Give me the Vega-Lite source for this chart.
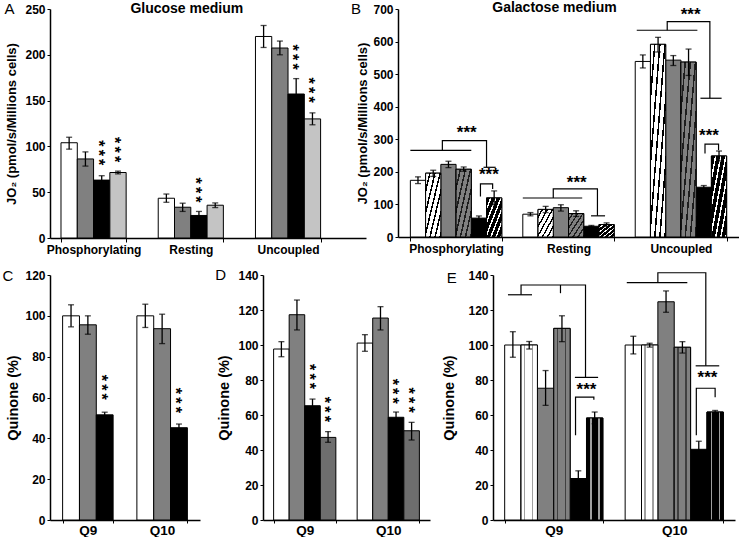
{
"$schema":"https://vega.github.io/schema/vega-lite/v6.json",
"padding":{"left":2,"top":1,"right":0,"bottom":0},
"config":{
 "view":{"stroke":null},
 "font":"Liberation Sans",
 "axis":{"labelFont":"Liberation Sans","labelFontWeight":"bold","labelFontSize":12,"labelColor":"#000","labelOverlap":false,"labelBound":false,"titleFont":"Liberation Sans","titleFontWeight":"bold","titleColor":"#000","domainColor":"#000","domainWidth":1.5,"tickColor":"#000","tickWidth":1,"tickSize":3,"grid":false,"labelPadding":2},
 "axisX":{"tickBand":"extent","labelAngle":0,"tickSize":4},
 "axisY":{"titleFontSize":13,"titlePadding":6,"labelOverlap":false,"labelBound":false,"labelFlush":false,"tickCount":30},
 "text":{"font":"Liberation Sans","color":"#000"}
},
"datasets":{
 "A":[
  {"g":"Phosphorylating","s":"a1","v":104,"lo":97,"hi":110},
  {"g":"Phosphorylating","s":"a2","v":86.3,"lo":78.5,"hi":94},
  {"g":"Phosphorylating","s":"a3","v":63.2,"lo":58.5,"hi":68},
  {"g":"Phosphorylating","s":"a4","v":71.5,"lo":70,"hi":73},
  {"g":"Resting","s":"a1","v":43.4,"lo":39,"hi":48},
  {"g":"Resting","s":"a2","v":33.6,"lo":29,"hi":38},
  {"g":"Resting","s":"a3","v":24.6,"lo":20.6,"hi":29},
  {"g":"Resting","s":"a4","v":35.8,"lo":33.2,"hi":38.3},
  {"g":"Uncoupled","s":"a1","v":220,"lo":208,"hi":232},
  {"g":"Uncoupled","s":"a2","v":207.4,"lo":200,"hi":215},
  {"g":"Uncoupled","s":"a3","v":157.2,"lo":140.5,"hi":174},
  {"g":"Uncoupled","s":"a4","v":130,"lo":123.6,"hi":136.6}],
 "As":[
  {"g":"Phosphorylating","s":"a3","y":93},
  {"g":"Phosphorylating","s":"a4","y":96.5},
  {"g":"Resting","s":"a3","y":52.4},
  {"g":"Uncoupled","s":"a3","y":197.5},
  {"g":"Uncoupled","s":"a4","y":161.5}],
 "B":[
  {"g":"Phosphorylating","s":"b1","v":174,"lo":164,"hi":184.6},
  {"g":"Phosphorylating","s":"b2","v":196,"lo":186,"hi":205},
  {"g":"Phosphorylating","s":"b3","v":223,"lo":213,"hi":232.6},
  {"g":"Phosphorylating","s":"b4","v":208,"lo":202,"hi":215},
  {"g":"Phosphorylating","s":"b5","v":58,"lo":52,"hi":64.6},
  {"g":"Phosphorylating","s":"b6","v":120,"lo":98.5,"hi":141.5},
  {"g":"Resting","s":"b1","v":70,"lo":65,"hi":75},
  {"g":"Resting","s":"b2","v":84.7,"lo":75,"hi":94},
  {"g":"Resting","s":"b3","v":90,"lo":79.5,"hi":99},
  {"g":"Resting","s":"b4","v":72,"lo":63,"hi":80.5},
  {"g":"Resting","s":"b5","v":33,"lo":31,"hi":35.5},
  {"g":"Resting","s":"b6","v":38.2,"lo":32,"hi":43.4},
  {"g":"Uncoupled","s":"b1","v":539,"lo":519,"hi":559},
  {"g":"Uncoupled","s":"b2","v":591.5,"lo":568,"hi":613},
  {"g":"Uncoupled","s":"b3","v":543,"lo":526.5,"hi":557},
  {"g":"Uncoupled","s":"b4","v":537,"lo":496,"hi":577},
  {"g":"Uncoupled","s":"b5","v":152.8,"lo":147.6,"hi":158},
  {"g":"Uncoupled","s":"b6","v":248.8,"lo":233.3,"hi":264}],
 "Bb":[
  {"g":"Phosphorylating","id":"P1","o":1,"k":0,"y":266},
  {"g":"Phosphorylating","id":"P1","o":2,"k":4,"y":266},
  {"g":"Phosphorylating","id":"P2","o":1,"k":2.1,"y":266},
  {"g":"Phosphorylating","id":"P2","o":2,"k":2.1,"y":296},
  {"g":"Phosphorylating","id":"P2","o":3,"k":5.0,"y":296},
  {"g":"Phosphorylating","id":"P2","o":4,"k":5.0,"y":214},
  {"g":"Phosphorylating","id":"P3","o":1,"k":4.8,"y":214},
  {"g":"Phosphorylating","id":"P3","o":2,"k":5.6,"y":214},
  {"g":"Phosphorylating","id":"P4","o":1,"k":4.6,"y":124},
  {"g":"Phosphorylating","id":"P4","o":2,"k":4.6,"y":163},
  {"g":"Phosphorylating","id":"P4","o":3,"k":5.4,"y":163},
  {"g":"Phosphorylating","id":"P4","o":4,"k":5.4,"y":147.5},
  {"g":"Resting","id":"R1","o":1,"k":0,"y":119.8},
  {"g":"Resting","id":"R1","o":2,"k":3.9,"y":119.8},
  {"g":"Resting","id":"R2","o":1,"k":2.0,"y":119.8},
  {"g":"Resting","id":"R2","o":2,"k":2.0,"y":147.5},
  {"g":"Resting","id":"R2","o":3,"k":4.9,"y":147.5},
  {"g":"Resting","id":"R2","o":4,"k":4.9,"y":65},
  {"g":"Resting","id":"R3","o":1,"k":4.48,"y":65},
  {"g":"Resting","id":"R3","o":2,"k":5.4,"y":65},
  {"g":"Uncoupled","id":"U1","o":1,"k":0.1,"y":634.8},
  {"g":"Uncoupled","id":"U1","o":2,"k":4.08,"y":634.8},
  {"g":"Uncoupled","id":"U2","o":1,"k":2.1,"y":634.8},
  {"g":"Uncoupled","id":"U2","o":2,"k":2.1,"y":661.5},
  {"g":"Uncoupled","id":"U2","o":3,"k":4.9,"y":661.5},
  {"g":"Uncoupled","id":"U2","o":4,"k":4.9,"y":426},
  {"g":"Uncoupled","id":"U3","o":1,"k":4.28,"y":426},
  {"g":"Uncoupled","id":"U3","o":2,"k":5.67,"y":426},
  {"g":"Uncoupled","id":"U4","o":1,"k":4.58,"y":256},
  {"g":"Uncoupled","id":"U4","o":2,"k":4.58,"y":285},
  {"g":"Uncoupled","id":"U4","o":3,"k":5.47,"y":285},
  {"g":"Uncoupled","id":"U4","o":4,"k":5.47,"y":266}],
 "Bs":[
  {"g":"Phosphorylating","k":3.7,"y":328},
  {"g":"Phosphorylating","k":5.15,"y":200},
  {"g":"Resting","k":3.54,"y":175.5},
  {"g":"Uncoupled","k":3.64,"y":692},
  {"g":"Uncoupled","k":4.84,"y":320}],
 "C":[
  {"g":"Q9","s":"c1","v":100,"lo":94.6,"hi":105.4},
  {"g":"Q9","s":"c2","v":95.6,"lo":91,"hi":100},
  {"g":"Q9","s":"c3","v":51.5,"lo":50.2,"hi":52.8},
  {"g":"Q10","s":"c1","v":100,"lo":94.3,"hi":105.7},
  {"g":"Q10","s":"c2","v":93.7,"lo":86.4,"hi":100.8},
  {"g":"Q10","s":"c3","v":45.2,"lo":43.6,"hi":47}],
 "Cs":[
  {"g":"Q9","s":"c3","y":65},
  {"g":"Q10","s":"c3","y":58.6}],
 "D":[
  {"g":"Q9","s":"d1","v":97.7,"lo":93.3,"hi":101.9},
  {"g":"Q9","s":"d2","v":117.3,"lo":108.6,"hi":125.7},
  {"g":"Q9","s":"d3","v":65.3,"lo":61.5,"hi":69.1},
  {"g":"Q9","s":"d4","v":47.2,"lo":44.4,"hi":50.5},
  {"g":"Q10","s":"d1","v":101.1,"lo":96.4,"hi":105.9},
  {"g":"Q10","s":"d2","v":115.4,"lo":108.6,"hi":121.9},
  {"g":"Q10","s":"d3","v":58.7,"lo":55.6,"hi":61.7},
  {"g":"Q10","s":"d4","v":51,"lo":45.7,"hi":55.8}],
 "Ds":[
  {"g":"Q9","s":"d3","y":82},
  {"g":"Q9","s":"d4","y":63.2},
  {"g":"Q10","s":"d3","y":73.6},
  {"g":"Q10","s":"d4","y":68.5}],
 "E":[
  {"g":"Q9","s":"e1","v":100,"lo":93,"hi":107.6},
  {"g":"Q9","s":"e2","v":100,"lo":97.7,"hi":102},
  {"g":"Q9","s":"e3","v":75.3,"lo":65.5,"hi":85.4},
  {"g":"Q9","s":"e4","v":109.5,"lo":101.9,"hi":116.7},
  {"g":"Q9","s":"e5","v":23.7,"lo":19.5,"hi":28.1},
  {"g":"Q9","s":"e6","v":58.3,"lo":55,"hi":61.7},
  {"g":"Q10","s":"e1","v":100,"lo":94.9,"hi":105},
  {"g":"Q10","s":"e2","v":100,"lo":98.8,"hi":101},
  {"g":"Q10","s":"e3","v":124.7,"lo":118.7,"hi":130.9},
  {"g":"Q10","s":"e4","v":98.7,"lo":95.4,"hi":101.9},
  {"g":"Q10","s":"e5","v":40.4,"lo":36,"hi":45},
  {"g":"Q10","s":"e6","v":61.7,"lo":60.7,"hi":62.6}],
 "Eb":[
  {"g":"Q9","id":"9a","o":1,"k":0.2,"y":128.7},
  {"g":"Q9","id":"9a","o":2,"k":1.67,"y":128.7},
  {"g":"Q9","id":"9b","o":1,"k":1.0,"y":128.7},
  {"g":"Q9","id":"9b","o":2,"k":1.0,"y":134.3},
  {"g":"Q9","id":"9b","o":3,"k":4.94,"y":134.3},
  {"g":"Q9","id":"9b","o":4,"k":4.94,"y":81.5},
  {"g":"Q9","id":"9c","o":1,"k":3.41,"y":134.3},
  {"g":"Q9","id":"9c","o":2,"k":3.41,"y":129.6},
  {"g":"Q9","id":"9d","o":1,"k":4.29,"y":81.5},
  {"g":"Q9","id":"9d","o":2,"k":5.71,"y":81.5},
  {"g":"Q9","id":"9e","o":1,"k":4.33,"y":48.4},
  {"g":"Q9","id":"9e","o":2,"k":4.33,"y":70.2},
  {"g":"Q9","id":"9e","o":3,"k":5.45,"y":70.2},
  {"g":"Q9","id":"9e","o":4,"k":5.45,"y":68.7},
  {"g":"Q10","id":"10a","o":1,"k":0.1,"y":135.7},
  {"g":"Q10","id":"10a","o":2,"k":3.8,"y":135.7},
  {"g":"Q10","id":"10b","o":1,"k":2.0,"y":135.7},
  {"g":"Q10","id":"10b","o":2,"k":2.0,"y":141.3},
  {"g":"Q10","id":"10b","o":3,"k":4.93,"y":141.3},
  {"g":"Q10","id":"10b","o":4,"k":4.93,"y":88.1},
  {"g":"Q10","id":"10d","o":1,"k":4.31,"y":88.1},
  {"g":"Q10","id":"10d","o":2,"k":5.75,"y":88.1},
  {"g":"Q10","id":"10e","o":1,"k":4.35,"y":48.4},
  {"g":"Q10","id":"10e","o":2,"k":4.35,"y":75.3},
  {"g":"Q10","id":"10e","o":3,"k":5.5,"y":75.3},
  {"g":"Q10","id":"10e","o":4,"k":5.5,"y":70.2}],
 "Es":[
  {"g":"Q9","k":5.0,"y":76.2},
  {"g":"Q10","k":5.03,"y":82.8}]
},
"spacing":13,
"resolve":{"scale":{"fill":"independent"}},
"vconcat":[
{"hconcat":[
 {"width":316,"height":229,
  "resolve":{"scale":{"xOffset":"independent"}},
  "encoding":{"x":{"field":"g","type":"nominal","title":null,"scale":{"domain":["Phosphorylating","Resting","Uncoupled"],"paddingInner":0.33,"paddingOuter":0.29,"align":0.195}}},
  "layer":[
   {"data":{"name":"A"},"mark":{"type":"bar","stroke":"#000","strokeWidth":1},
    "encoding":{"xOffset":{"field":"s","type":"nominal","scale":{"domain":["a1","a2","a3","a4"]}},
     "y":{"field":"v","type":"quantitative","title":"JO₂ (pmol/s/Millions cells)","scale":{"domain":[0,250],"nice":false},"axis":{"values":[0,50,100,150,200,250],"tickCount":30}},
     "fill":{"field":"s","type":"nominal","legend":null,"scale":{"domain":["a1","a2","a3","a4"],"range":["#ffffff","#808080","#000000","#c4c4c4"]}}}},
   {"data":{"name":"A"},"mark":{"type":"rule","color":"#000","strokeWidth":1.3},
    "encoding":{"xOffset":{"field":"s","type":"nominal","scale":{"domain":["a1","a2","a3","a4"]}},"y":{"field":"lo","type":"quantitative","title":"JO₂ (pmol/s/Millions cells)","scale":{"domain":[0,250],"nice":false}},"y2":{"field":"hi"}}},
   {"data":{"name":"A"},"mark":{"type":"tick","color":"#000","size":6,"thickness":1.3,"orient":"horizontal"},
    "encoding":{"xOffset":{"field":"s","type":"nominal","scale":{"domain":["a1","a2","a3","a4"]}},"y":{"field":"hi","type":"quantitative","title":"JO₂ (pmol/s/Millions cells)","scale":{"domain":[0,250],"nice":false}}}},
   {"data":{"name":"A"},"mark":{"type":"tick","color":"#000","size":6,"thickness":1.3,"orient":"horizontal"},
    "encoding":{"xOffset":{"field":"s","type":"nominal","scale":{"domain":["a1","a2","a3","a4"]}},"y":{"field":"lo","type":"quantitative","title":"JO₂ (pmol/s/Millions cells)","scale":{"domain":[0,250],"nice":false}}}},
   {"data":{"name":"As"},"mark":{"type":"text","text":"*\u2009*\u2009*","angle":90,"fontSize":16,"fontWeight":"bold","baseline":"middle","align":"center","dy":4},
    "encoding":{"xOffset":{"field":"s","type":"nominal","scale":{"domain":["a1","a2","a3","a4"]}},"y":{"field":"y","type":"quantitative","title":"JO₂ (pmol/s/Millions cells)","scale":{"domain":[0,250],"nice":false}}}},
   {"data":{"values":[{}]},"mark":{"type":"text","text":"Glucose medium","fontSize":14,"fontWeight":"bold","dx":-4,"dy":0},
    "encoding":{"x":{"datum":"Resting","type":"nominal"},"y":{"datum":250,"type":"quantitative"}}},
   {"data":{"values":[{}]},"mark":{"type":"text","text":"A","fontSize":15,"dx":-84,"dy":0},
    "encoding":{"x":{"datum":"Phosphorylating","type":"nominal"},"y":{"datum":250,"type":"quantitative"}}}
  ]},
 {"width":341,"height":228,
  "resolve":{"scale":{"xOffset":"independent"}},
  "encoding":{"x":{"field":"g","type":"nominal","title":null,"scale":{"domain":["Phosphorylating","Resting","Uncoupled"],"paddingInner":0.187,"paddingOuter":0.11}}},
  "layer":[
   {"data":{"name":"B"},"mark":{"type":"bar","stroke":"#000","strokeWidth":1},
    "encoding":{"xOffset":{"field":"s","type":"nominal","scale":{"domain":["b1","b2","b3","b4","b5","b6"]}},
     "y":{"field":"v","type":"quantitative","title":"JO₂ (pmol/s/Millions cells)","scale":{"domain":[0,700],"nice":false},"axis":{"values":[0,100,200,300,400,500,600,700],"tickCount":30,"titlePadding":3}},
     "fill":{"field":"s","type":"nominal","legend":null,"scale":{"domain":["b1","b2","b3","b4","b5","b6"],"range":["#ffffff","#c0c0c0","#808080","#5a5a5a","#000000","#3c3c3c"]}}}},
   {"data":{"name":"B"},"transform":[{"filter":"datum.s == 'b2'"}],
    "mark":{"type":"bar","stroke":"#000","strokeWidth":1,"fill":{"gradient":"linear","x1":0,"y1":0,"x2":1,"y2":1,"stops":[
     {"offset":0,"color":"#ffffff"},{"offset":0.1167,"color":"#ffffff"},{"offset":0.1167,"color":"#000000"},{"offset":0.1667,"color":"#000000"},
     {"offset":0.1667,"color":"#ffffff"},{"offset":0.2833,"color":"#ffffff"},{"offset":0.2833,"color":"#000000"},{"offset":0.3333,"color":"#000000"},
     {"offset":0.3333,"color":"#ffffff"},{"offset":0.45,"color":"#ffffff"},{"offset":0.45,"color":"#000000"},{"offset":0.5,"color":"#000000"},
     {"offset":0.5,"color":"#ffffff"},{"offset":0.6167,"color":"#ffffff"},{"offset":0.6167,"color":"#000000"},{"offset":0.6667,"color":"#000000"},
     {"offset":0.6667,"color":"#ffffff"},{"offset":0.7833,"color":"#ffffff"},{"offset":0.7833,"color":"#000000"},{"offset":0.8333,"color":"#000000"},
     {"offset":0.8333,"color":"#ffffff"},{"offset":0.95,"color":"#ffffff"},{"offset":0.95,"color":"#000000"},{"offset":1,"color":"#000000"}]}},
    "encoding":{"xOffset":{"field":"s","type":"nominal","scale":{"domain":["b1","b2","b3","b4","b5","b6"]}},"y":{"field":"v","type":"quantitative","title":"JO₂ (pmol/s/Millions cells)","scale":{"domain":[0,700],"nice":false}}}},
   {"data":{"name":"B"},"transform":[{"filter":"datum.s == 'b4'"}],
    "mark":{"type":"bar","stroke":"#000","strokeWidth":1,"fill":{"gradient":"linear","x1":0,"y1":0,"x2":1,"y2":1,"stops":[
     {"offset":0,"color":"#808080"},{"offset":0.1167,"color":"#808080"},{"offset":0.1167,"color":"#1e1e1e"},{"offset":0.1667,"color":"#1e1e1e"},
     {"offset":0.1667,"color":"#808080"},{"offset":0.2833,"color":"#808080"},{"offset":0.2833,"color":"#1e1e1e"},{"offset":0.3333,"color":"#1e1e1e"},
     {"offset":0.3333,"color":"#808080"},{"offset":0.45,"color":"#808080"},{"offset":0.45,"color":"#1e1e1e"},{"offset":0.5,"color":"#1e1e1e"},
     {"offset":0.5,"color":"#808080"},{"offset":0.6167,"color":"#808080"},{"offset":0.6167,"color":"#1e1e1e"},{"offset":0.6667,"color":"#1e1e1e"},
     {"offset":0.6667,"color":"#808080"},{"offset":0.7833,"color":"#808080"},{"offset":0.7833,"color":"#1e1e1e"},{"offset":0.8333,"color":"#1e1e1e"},
     {"offset":0.8333,"color":"#808080"},{"offset":0.95,"color":"#808080"},{"offset":0.95,"color":"#1e1e1e"},{"offset":1,"color":"#1e1e1e"}]}},
    "encoding":{"xOffset":{"field":"s","type":"nominal","scale":{"domain":["b1","b2","b3","b4","b5","b6"]}},"y":{"field":"v","type":"quantitative","title":"JO₂ (pmol/s/Millions cells)","scale":{"domain":[0,700],"nice":false}}}},
   {"data":{"name":"B"},"transform":[{"filter":"datum.s == 'b6'"}],
    "mark":{"type":"bar","stroke":"#000","strokeWidth":1,"fill":{"gradient":"linear","x1":0,"y1":0,"x2":1,"y2":1,"stops":[
     {"offset":0,"color":"#000000"},{"offset":0.1167,"color":"#000000"},{"offset":0.1167,"color":"#ffffff"},{"offset":0.1667,"color":"#ffffff"},
     {"offset":0.1667,"color":"#000000"},{"offset":0.2833,"color":"#000000"},{"offset":0.2833,"color":"#ffffff"},{"offset":0.3333,"color":"#ffffff"},
     {"offset":0.3333,"color":"#000000"},{"offset":0.45,"color":"#000000"},{"offset":0.45,"color":"#ffffff"},{"offset":0.5,"color":"#ffffff"},
     {"offset":0.5,"color":"#000000"},{"offset":0.6167,"color":"#000000"},{"offset":0.6167,"color":"#ffffff"},{"offset":0.6667,"color":"#ffffff"},
     {"offset":0.6667,"color":"#000000"},{"offset":0.7833,"color":"#000000"},{"offset":0.7833,"color":"#ffffff"},{"offset":0.8333,"color":"#ffffff"},
     {"offset":0.8333,"color":"#000000"},{"offset":0.95,"color":"#000000"},{"offset":0.95,"color":"#ffffff"},{"offset":1,"color":"#ffffff"}]}},
    "encoding":{"xOffset":{"field":"s","type":"nominal","scale":{"domain":["b1","b2","b3","b4","b5","b6"]}},"y":{"field":"v","type":"quantitative","title":"JO₂ (pmol/s/Millions cells)","scale":{"domain":[0,700],"nice":false}}}},
   {"data":{"name":"B"},"mark":{"type":"rule","color":"#000","strokeWidth":1.3},
    "encoding":{"xOffset":{"field":"s","type":"nominal","scale":{"domain":["b1","b2","b3","b4","b5","b6"]}},"y":{"field":"lo","type":"quantitative","title":"JO₂ (pmol/s/Millions cells)","scale":{"domain":[0,700],"nice":false}},"y2":{"field":"hi"}}},
   {"data":{"name":"B"},"mark":{"type":"tick","color":"#000","size":6,"thickness":1.3,"orient":"horizontal"},
    "encoding":{"xOffset":{"field":"s","type":"nominal","scale":{"domain":["b1","b2","b3","b4","b5","b6"]}},"y":{"field":"hi","type":"quantitative","title":"JO₂ (pmol/s/Millions cells)","scale":{"domain":[0,700],"nice":false}}}},
   {"data":{"name":"B"},"mark":{"type":"tick","color":"#000","size":6,"thickness":1.3,"orient":"horizontal"},
    "encoding":{"xOffset":{"field":"s","type":"nominal","scale":{"domain":["b1","b2","b3","b4","b5","b6"]}},"y":{"field":"lo","type":"quantitative","title":"JO₂ (pmol/s/Millions cells)","scale":{"domain":[0,700],"nice":false}}}},
   {"data":{"name":"Bb"},"mark":{"type":"line","color":"#000","strokeWidth":1.2},
    "encoding":{"xOffset":{"field":"k","type":"quantitative","scale":{"domain":[0,6],"nice":false,"zero":false}},"y":{"field":"y","type":"quantitative","title":"JO₂ (pmol/s/Millions cells)","scale":{"domain":[0,700],"nice":false}},"detail":{"field":"id","type":"nominal"},"order":{"field":"o","type":"quantitative"}}},
   {"data":{"name":"Bs"},"mark":{"type":"text","text":"***","fontSize":17,"fontWeight":"bold","baseline":"middle","dy":3},
    "encoding":{"xOffset":{"field":"k","type":"quantitative","scale":{"domain":[0,6],"nice":false,"zero":false}},"y":{"field":"y","type":"quantitative","title":"JO₂ (pmol/s/Millions cells)","scale":{"domain":[0,700],"nice":false}}}},
   {"data":{"values":[{}]},"mark":{"type":"text","text":"Galactose medium","fontSize":14,"fontWeight":"bold","dx":-14,"dy":-1},
    "encoding":{"x":{"datum":"Resting","type":"nominal"},"y":{"datum":700,"type":"quantitative"}}},
   {"data":{"values":[{}]},"mark":{"type":"text","text":"B","fontSize":15,"dx":-100,"dy":0},
    "encoding":{"x":{"datum":"Phosphorylating","type":"nominal"},"y":{"datum":700,"type":"quantitative"}}}
  ]}
 ],"spacing":32,"bounds":"flush","resolve":{"scale":{"fill":"independent"}}},
{"hconcat":[
 {"width":150,"height":245,
  "resolve":{"scale":{"xOffset":"independent"}},
  "encoding":{"x":{"field":"g","type":"nominal","title":null,"scale":{"domain":["Q9","Q10"],"paddingInner":0.32,"paddingOuter":0.17},"axis":{"labelFontSize":13.5,"tickSize":3,"labelPadding":0}}},
  "layer":[
   {"data":{"name":"C"},"mark":{"type":"bar","stroke":"#000","strokeWidth":1},
    "encoding":{"xOffset":{"field":"s","type":"nominal","scale":{"domain":["c1","c2","c3"]}},
     "y":{"field":"v","type":"quantitative","title":"Quinone (%)","scale":{"domain":[0,120],"nice":false},"axis":{"values":[0,20,40,60,80,100,120],"tickCount":30,"titleFontSize":14.5,"titlePadding":4.5}},
     "fill":{"field":"s","type":"nominal","legend":null,"scale":{"domain":["c1","c2","c3"],"range":["#ffffff","#808080","#000000"]}}}},
   {"data":{"name":"C"},"mark":{"type":"rule","color":"#000","strokeWidth":1.3},
    "encoding":{"xOffset":{"field":"s","type":"nominal","scale":{"domain":["c1","c2","c3"]}},"y":{"field":"lo","type":"quantitative","title":"Quinone (%)","scale":{"domain":[0,120],"nice":false}},"y2":{"field":"hi"}}},
   {"data":{"name":"C"},"mark":{"type":"tick","color":"#000","size":6,"thickness":1.3,"orient":"horizontal"},
    "encoding":{"xOffset":{"field":"s","type":"nominal","scale":{"domain":["c1","c2","c3"]}},"y":{"field":"hi","type":"quantitative","title":"Quinone (%)","scale":{"domain":[0,120],"nice":false}}}},
   {"data":{"name":"C"},"mark":{"type":"tick","color":"#000","size":6,"thickness":1.3,"orient":"horizontal"},
    "encoding":{"xOffset":{"field":"s","type":"nominal","scale":{"domain":["c1","c2","c3"]}},"y":{"field":"lo","type":"quantitative","title":"Quinone (%)","scale":{"domain":[0,120],"nice":false}}}},
   {"data":{"name":"Cs"},"mark":{"type":"text","text":"*\u2009*\u2009*","angle":90,"fontSize":16,"fontWeight":"bold","baseline":"middle","align":"center","dy":4},
    "encoding":{"xOffset":{"field":"s","type":"nominal","scale":{"domain":["c1","c2","c3"]}},"y":{"field":"y","type":"quantitative","title":"Quinone (%)","scale":{"domain":[0,120],"nice":false}}}},
   {"data":{"values":[{}]},"mark":{"type":"text","text":"C","fontSize":15,"dx":-80,"dy":1},
    "encoding":{"x":{"datum":"Q9","type":"nominal"},"y":{"datum":120,"type":"quantitative"}}}
  ]},
 {"width":167,"height":245,
  "resolve":{"scale":{"xOffset":"independent"}},
  "encoding":{"x":{"field":"g","type":"nominal","title":null,"scale":{"domain":["Q9","Q10"],"paddingInner":0.255,"paddingOuter":0.127},"axis":{"labelFontSize":13.5,"tickSize":3,"labelPadding":0}}},
  "layer":[
   {"data":{"name":"D"},"mark":{"type":"bar","stroke":"#000","strokeWidth":1},
    "encoding":{"xOffset":{"field":"s","type":"nominal","scale":{"domain":["d1","d2","d3","d4"]}},
     "y":{"field":"v","type":"quantitative","title":"Quinone (%)","scale":{"domain":[0,140],"nice":false},"axis":{"values":[0,20,40,60,80,100,120,140],"tickCount":30,"titleFontSize":14.5,"titlePadding":6}},
     "fill":{"field":"s","type":"nominal","legend":null,"scale":{"domain":["d1","d2","d3","d4"],"range":["#ffffff","#808080","#000000","#6e6e6e"]}}}},
   {"data":{"name":"D"},"mark":{"type":"rule","color":"#000","strokeWidth":1.3},
    "encoding":{"xOffset":{"field":"s","type":"nominal","scale":{"domain":["d1","d2","d3","d4"]}},"y":{"field":"lo","type":"quantitative","title":"Quinone (%)","scale":{"domain":[0,140],"nice":false}},"y2":{"field":"hi"}}},
   {"data":{"name":"D"},"mark":{"type":"tick","color":"#000","size":6,"thickness":1.3,"orient":"horizontal"},
    "encoding":{"xOffset":{"field":"s","type":"nominal","scale":{"domain":["d1","d2","d3","d4"]}},"y":{"field":"hi","type":"quantitative","title":"Quinone (%)","scale":{"domain":[0,140],"nice":false}}}},
   {"data":{"name":"D"},"mark":{"type":"tick","color":"#000","size":6,"thickness":1.3,"orient":"horizontal"},
    "encoding":{"xOffset":{"field":"s","type":"nominal","scale":{"domain":["d1","d2","d3","d4"]}},"y":{"field":"lo","type":"quantitative","title":"Quinone (%)","scale":{"domain":[0,140],"nice":false}}}},
   {"data":{"name":"Ds"},"mark":{"type":"text","text":"*\u2009*\u2009*","angle":90,"fontSize":16,"fontWeight":"bold","baseline":"middle","align":"center","dy":4},
    "encoding":{"xOffset":{"field":"s","type":"nominal","scale":{"domain":["d1","d2","d3","d4"]}},"y":{"field":"y","type":"quantitative","title":"Quinone (%)","scale":{"domain":[0,140],"nice":false}}}},
   {"data":{"values":[{}]},"mark":{"type":"text","text":"D","fontSize":15,"dx":-84,"dy":0},
    "encoding":{"x":{"datum":"Q9","type":"nominal"},"y":{"datum":140,"type":"quantitative"}}}
  ]},
 {"width":242,"height":245,
  "resolve":{"scale":{"xOffset":"independent"}},
  "encoding":{"x":{"field":"g","type":"nominal","title":null,"scale":{"domain":["Q9","Q10"],"paddingInner":0.185,"paddingOuter":0.097},"axis":{"labelFontSize":13.5,"tickSize":3,"labelPadding":0}}},
  "layer":[
   {"data":{"name":"E"},"mark":{"type":"bar","stroke":"#000","strokeWidth":1},
    "encoding":{"xOffset":{"field":"s","type":"nominal","scale":{"domain":["e1","e2","e3","e4","e5","e6"]}},
     "y":{"field":"v","type":"quantitative","title":"Quinone (%)","scale":{"domain":[0,140],"nice":false},"axis":{"values":[0,20,40,60,80,100,120,140],"tickCount":30,"titleFontSize":14.5,"titlePadding":11}},
     "fill":{"field":"s","type":"nominal","legend":null,"scale":{"domain":["e1","e2","e3","e4","e5","e6"],"range":["#ffffff","#e6e6e6","#808080","#6a6a6a","#000000","#222222"]}}}},
   {"data":{"name":"E"},"transform":[{"filter":"datum.s == 'e2'"}],
    "mark":{"type":"bar","stroke":"#000","strokeWidth":1,"fill":{"gradient":"linear","x1":0,"y1":0,"x2":1,"y2":0,"stops":[
     {"offset":0,"color":"#ffffff"},{"offset":0.18,"color":"#ffffff"},{"offset":0.18,"color":"#a0a0a0"},{"offset":0.27,"color":"#a0a0a0"},{"offset":0.27,"color":"#ffffff"},
     {"offset":0.66,"color":"#ffffff"},{"offset":0.66,"color":"#a0a0a0"},{"offset":0.75,"color":"#a0a0a0"},{"offset":0.75,"color":"#ffffff"},{"offset":1,"color":"#ffffff"}]}},
    "encoding":{"xOffset":{"field":"s","type":"nominal","scale":{"domain":["e1","e2","e3","e4","e5","e6"]}},"y":{"field":"v","type":"quantitative","title":"Quinone (%)","scale":{"domain":[0,140],"nice":false}}}},
   {"data":{"name":"E"},"transform":[{"filter":"datum.s == 'e4'"}],
    "mark":{"type":"bar","stroke":"#000","strokeWidth":1,"fill":{"gradient":"linear","x1":0,"y1":0,"x2":1,"y2":0,"stops":[
     {"offset":0,"color":"#808080"},{"offset":0.18,"color":"#808080"},{"offset":0.18,"color":"#404040"},{"offset":0.27,"color":"#404040"},{"offset":0.27,"color":"#808080"},
     {"offset":0.66,"color":"#808080"},{"offset":0.66,"color":"#404040"},{"offset":0.75,"color":"#404040"},{"offset":0.75,"color":"#808080"},{"offset":1,"color":"#808080"}]}},
    "encoding":{"xOffset":{"field":"s","type":"nominal","scale":{"domain":["e1","e2","e3","e4","e5","e6"]}},"y":{"field":"v","type":"quantitative","title":"Quinone (%)","scale":{"domain":[0,140],"nice":false}}}},
   {"data":{"name":"E"},"transform":[{"filter":"datum.s == 'e6'"}],
    "mark":{"type":"bar","stroke":"#000","strokeWidth":1,"fill":{"gradient":"linear","x1":0,"y1":0,"x2":1,"y2":0,"stops":[
     {"offset":0,"color":"#000000"},{"offset":0.22,"color":"#000000"},{"offset":0.22,"color":"#a0a0a0"},{"offset":0.31,"color":"#a0a0a0"},{"offset":0.31,"color":"#000000"},
     {"offset":0.72,"color":"#000000"},{"offset":0.72,"color":"#a0a0a0"},{"offset":0.81,"color":"#a0a0a0"},{"offset":0.81,"color":"#000000"},{"offset":1,"color":"#000000"}]}},
    "encoding":{"xOffset":{"field":"s","type":"nominal","scale":{"domain":["e1","e2","e3","e4","e5","e6"]}},"y":{"field":"v","type":"quantitative","title":"Quinone (%)","scale":{"domain":[0,140],"nice":false}}}},
   {"data":{"name":"E"},"mark":{"type":"rule","color":"#000","strokeWidth":1.3},
    "encoding":{"xOffset":{"field":"s","type":"nominal","scale":{"domain":["e1","e2","e3","e4","e5","e6"]}},"y":{"field":"lo","type":"quantitative","title":"Quinone (%)","scale":{"domain":[0,140],"nice":false}},"y2":{"field":"hi"}}},
   {"data":{"name":"E"},"mark":{"type":"tick","color":"#000","size":6,"thickness":1.3,"orient":"horizontal"},
    "encoding":{"xOffset":{"field":"s","type":"nominal","scale":{"domain":["e1","e2","e3","e4","e5","e6"]}},"y":{"field":"hi","type":"quantitative","title":"Quinone (%)","scale":{"domain":[0,140],"nice":false}}}},
   {"data":{"name":"E"},"mark":{"type":"tick","color":"#000","size":6,"thickness":1.3,"orient":"horizontal"},
    "encoding":{"xOffset":{"field":"s","type":"nominal","scale":{"domain":["e1","e2","e3","e4","e5","e6"]}},"y":{"field":"lo","type":"quantitative","title":"Quinone (%)","scale":{"domain":[0,140],"nice":false}}}},
   {"data":{"name":"Eb"},"mark":{"type":"line","color":"#000","strokeWidth":1.2},
    "encoding":{"xOffset":{"field":"k","type":"quantitative","scale":{"domain":[0,6],"nice":false,"zero":false}},"y":{"field":"y","type":"quantitative","title":"Quinone (%)","scale":{"domain":[0,140],"nice":false}},"detail":{"field":"id","type":"nominal"},"order":{"field":"o","type":"quantitative"}}},
   {"data":{"name":"Es"},"mark":{"type":"text","text":"***","fontSize":17,"fontWeight":"bold","baseline":"middle","dy":3},
    "encoding":{"xOffset":{"field":"k","type":"quantitative","scale":{"domain":[0,6],"nice":false,"zero":false}},"y":{"field":"y","type":"quantitative","title":"Quinone (%)","scale":{"domain":[0,140],"nice":false}}}},
   {"data":{"values":[{}]},"mark":{"type":"text","text":"E","fontSize":15,"dx":-102,"dy":3},
    "encoding":{"x":{"datum":"Q9","type":"nominal"},"y":{"datum":140,"type":"quantitative"}}}
  ]}
 ],"spacing":63,"bounds":"flush","resolve":{"scale":{"fill":"independent"}}}
]
}
